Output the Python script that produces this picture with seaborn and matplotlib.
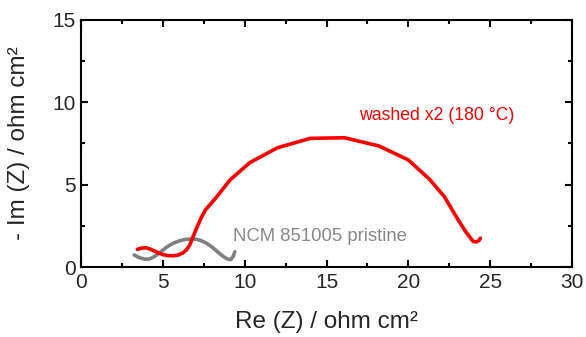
import matplotlib
matplotlib.use("Agg")
import matplotlib.pyplot as plt
from matplotlib.ticker import MultipleLocator
import seaborn as sns
import pandas as pd

# Nyquist data: Re(Z) and -Im(Z) in ohm cm²
washed_re = [3.45, 3.7, 3.95, 4.2, 4.45, 4.75, 5.05, 5.35, 5.65, 5.95, 6.25,
             6.45, 6.65, 6.85, 7.1, 7.35, 7.6, 8.3, 9.1, 10.3,
             12.0, 14.0, 16.1, 18.2, 20.0, 21.3, 22.2, 23.05, 23.5, 23.95,
             24.15, 24.3, 24.4]
washed_im = [1.07, 1.15, 1.17, 1.1, 0.99, 0.85, 0.74, 0.69, 0.68, 0.73, 0.87,
             1.05, 1.34, 1.85, 2.45, 3.0, 3.46, 4.27, 5.28, 6.33,
             7.24, 7.81, 7.85, 7.35, 6.5, 5.32, 4.27, 2.85, 2.15, 1.56,
             1.52, 1.6, 1.75]

pristine_re = [3.25, 3.45, 3.65, 3.9, 4.15, 4.4, 4.65, 4.95, 5.25, 5.65, 6.05,
               6.4, 6.7, 7.0, 7.3, 7.65, 8.0, 8.35, 8.7, 8.95, 9.15, 9.3, 9.4]
pristine_im = [0.73, 0.62, 0.54, 0.48, 0.48, 0.58, 0.75, 0.98, 1.22, 1.45, 1.6,
               1.68, 1.7, 1.69, 1.62, 1.45, 1.22, 0.92, 0.63, 0.48, 0.45, 0.65,
               0.93]

washed_label = "washed x2 (180 °C)"
pristine_label = "NCM 851005 pristine"

sns.set_style("ticks")
plt.rcParams["font.family"] = ["Liberation Sans", "DejaVu Sans"]

fig = plt.figure(figsize=(5.86, 3.37), dpi=100)
ax = fig.add_axes([0.1382, 0.2077, 0.838, 0.733])

df_w = pd.DataFrame({"re": washed_re, "im": washed_im})
df_p = pd.DataFrame({"re": pristine_re, "im": pristine_im})

sns.lineplot(data=df_p, x="re", y="im", sort=False, color="#808080",
             linewidth=2.6, ax=ax)
sns.lineplot(data=df_w, x="re", y="im", sort=False, color="#ff0000",
             linewidth=2.6, ax=ax)

ax.set_xlim(0, 30)
ax.set_ylim(0, 15)
ax.xaxis.set_major_locator(MultipleLocator(5))
ax.xaxis.set_minor_locator(MultipleLocator(2.5))
ax.yaxis.set_major_locator(MultipleLocator(5))
ax.yaxis.set_minor_locator(MultipleLocator(2.5))

for s in ax.spines.values():
    s.set_visible(True)
    s.set_linewidth(1.5)
    s.set_color("black")

ax.tick_params(which="both", direction="in", top=True, right=True,
               labelsize=15, width=1.5, color="black")
ax.tick_params(which="major", length=5, pad=4)
ax.tick_params(which="minor", length=3)

ax.set_xlabel("Re (Z) / ohm cm²", fontsize=17.5, labelpad=14)
ax.set_ylabel("- Im (Z) / ohm cm²", fontsize=17.5, labelpad=16)

ax.text(17.0, 9.2, washed_label, color="#ff0000", fontsize=12.7,
        ha="left", va="center")
ax.text(9.3, 1.85, pristine_label, color="#888888", fontsize=13.3,
        ha="left", va="center")

fig.savefig("out.png", dpi=100)
